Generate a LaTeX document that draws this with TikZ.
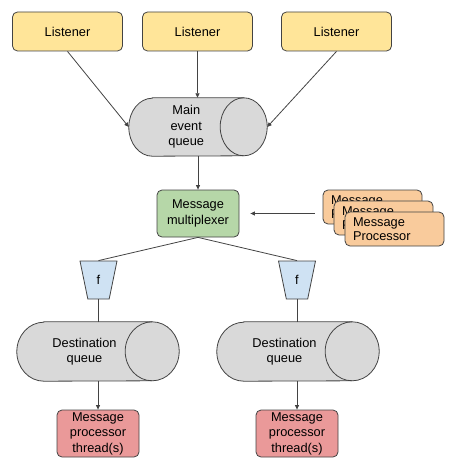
\documentclass[tikz,border=0pt]{standalone}
\usepackage{fontspec}
\setmainfont{Liberation Sans}
\usetikzlibrary{shapes.geometric}
\usetikzlibrary{positioning}
\usetikzlibrary{arrows.meta}
\usetikzlibrary{backgrounds}

\definecolor{edgegray}{HTML}{434343}
\definecolor{listenerfill}{HTML}{FFE599}
\definecolor{muxfill}{HTML}{B6D7A8}
\definecolor{queuefill}{HTML}{D9D9D9}
\definecolor{funnelfill}{HTML}{CFE2F3}
\definecolor{procfill}{HTML}{F9CB9C}
\definecolor{threadfill}{HTML}{EA9999}

% cylinder round a queue node: node, end x radius, end y radius
\newcommand{\queueoutline}[3]{%
    \draw[queueline] ([xshift=#2]#1.north west) -- (#1.north east)
        arc[start angle=90,end angle=-90,x radius=#2,y radius=#3]
        -- ([xshift=#2]#1.south west)
        arc[start angle=270,end angle=90,x radius=#2,y radius=#3] -- cycle;
    \draw[queueline,fill=none] (#1.north east)
        arc[start angle=90,end angle=270,x radius=#2,y radius=#3];}

\begin{document}
\begin{tikzpicture}[x=1pt,y=-1pt,
    every node/.style={align=center,font=\fontsize{12.8}{15.5}\selectfont},
    box/.style={draw=edgegray,line width=0.8pt,rounded corners=5pt,inner sep=0pt},
    listener/.style={box,fill=listenerfill,minimum width=110pt,minimum height=39pt},
    mux/.style={box,fill=muxfill,minimum width=82pt,minimum height=47pt},
    thread/.style={box,fill=threadfill,minimum width=82pt,minimum height=47pt},
    proc/.style={box,fill=procfill,minimum width=99pt,minimum height=34pt,
        inner xsep=8pt,text width=83pt,align=left,
        font=\fontsize{12.8}{14}\selectfont},
    queue/.style={inner sep=0pt},
    queueline/.style={draw=edgegray,line width=0.8pt,fill=queuefill},
    funnel/.style={trapezium,trapezium stretches=true,trapezium angle=98,
        draw=edgegray,line width=0.8pt,inner sep=0pt,
        minimum width=37pt,minimum height=38pt,fill=funnelfill},
    arr/.style={draw=edgegray,line width=0.8pt,
        arrows=-{Triangle[length=4.5pt,width=4pt]}},
    link/.style={draw=edgegray,line width=0.8pt}]

            %\draw [help lines] (0,0) grid (457,470);
            \useasboundingbox (0,0) rectangle (457,470);

            \path   (67.5,31.5) node (l1) [listener] {Listener}
                    (197.5,31.5) node (l2) [listener] {Listener}
                    (336.5,31.5) node (l3) [listener] {Listener}
                    (186.25,127) node (mainq) [queue,minimum width=114.5pt,
                        minimum height=58pt] {Main\\event\\queue}
                    (198,213.5) node (mux) [mux] {Message\\multiplexer}
                    (372.5,207) node (mp1) [proc] {Message\\Processor}
                    (383.5,218) node (mp2) [proc] {Message\\Processor}
                    (394.5,229) node (mp3) [proc] {Message\\Processor}
                    (98.5,280) node (f1) [funnel] {f}
                    (297,280) node (f2) [funnel] {f}
                    (84.5,351.5) node (dq1) [queue,minimum width=135pt,
                        minimum height=59pt] {Destination\\queue}
                    (284.5,351.5) node (dq2) [queue,minimum width=135pt,
                        minimum height=59pt] {Destination\\queue}
                    (98,433.5) node (t1) [thread] {Message\\processor\\thread(s)}
                    (297,433.5) node (t2) [thread] {Message\\processor\\thread(s)};

            \begin{scope}[on background layer]
                \queueoutline{mainq}{23.5pt}{29pt}
                \queueoutline{dq1}{27pt}{29.5pt}
                \queueoutline{dq2}{27pt}{29.5pt}
            \end{scope}

            \draw[arr] (l1.south) -- (mainq.west);
            \draw[arr] (l2.south) -- (mainq.north -| l2.south);
            \draw[arr] (l3.south) -- ([xshift=23.5pt]mainq.east);
            \draw[arr] (mainq.south -| mux.north) -- (mux.north);
            \draw[arr,shorten <=8pt,shorten >=11pt] (mux.east -| mp1.west) -- (mux.east);
            \draw[link] (mux.south) -- (f1.north);
            \draw[link] (mux.south) -- (f2.north);
            \draw[link] (f1.south) -- (f1.south |- dq1.north);
            \draw[link] (f2.south) -- (f2.south |- dq2.north);
            \draw[arr] (t1.north |- dq1.south) -- (t1.north);
            \draw[arr] (t2.north |- dq2.south) -- (t2.north);

\end{tikzpicture}
\end{document}
